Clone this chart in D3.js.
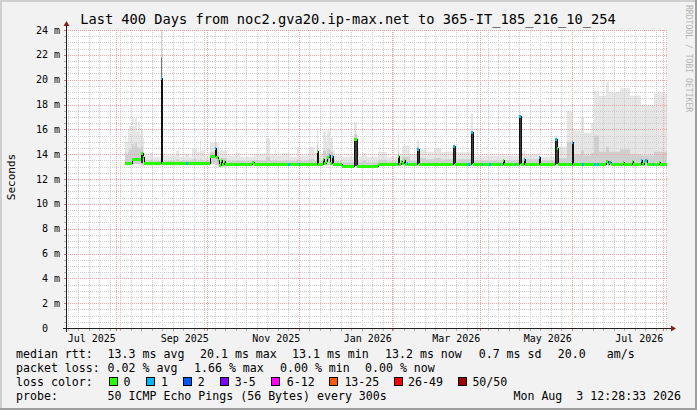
<!DOCTYPE html>
<html><head><meta charset="utf-8">
<script src="https://cdn.jsdelivr.net/npm/d3@7"></script>
<style>
html,body{margin:0;padding:0;background:#f2f2f2;}
svg{display:block;}
text{font-family:"DejaVu Sans Mono",monospace;fill:#000;white-space:pre;}
.g rect,.crisp{shape-rendering:crispEdges;}
</style></head><body>
<svg id="chart" width="697" height="410"></svg>
<script>
// ---------------- data ----------------
const titleText = "Last 400 Days from noc2.gva20.ip-max.net to 365-IT_185_216_10_254";
const yAxisTitle = "Seconds";
const watermark = "RRDTOOL / TOBI OETIKER";
const endTimeStr = "2026-08-03T12:28:33Z";
const yTickValues = [0,2,4,6,8,10,12,14,16,18,20,22,24];
const yTickUnit = "m";
const majorGridDates = ["2025-08-01","2025-10-01","2025-12-01","2026-02-01","2026-04-01","2026-06-01","2026-08-01"];
const xLabelDates = ["2025-07-16","2025-09-16","2025-11-16","2026-01-16","2026-03-16","2026-05-16","2026-07-16"];
const xLabelTexts = ["Jul 2025","Sep 2025","Nov 2025","Jan 2026","Mar 2026","May 2026","Jul 2026"];

// median rtt (ms), each value holds from its date until the next entry
const medianSteps = [
 ["2025-08-07",13.3],["2025-08-12",13.65],["2025-08-16",13.6],["2025-08-18",14.1],["2025-08-19",13.8],
 ["2025-08-20",13.25],["2025-08-31",20.1],["2025-09-01",13.25],
 ["2025-10-03",13.85],["2025-10-06",14.5],["2025-10-07",13.8],["2025-10-08",13.5],["2025-10-09",13.1],
 ["2025-10-10",13.55],["2025-10-11",13.2],["2025-10-12",13.45],["2025-10-13",13.22],
 ["2025-10-31",13.4],["2025-11-01",13.2],
 ["2025-12-13",14.25],["2025-12-14",13.2],["2025-12-17",13.65],["2025-12-18",13.25],["2025-12-19",13.45],
 ["2025-12-20",13.8],["2025-12-21",13.9],["2025-12-22",13.3],["2025-12-23",13.85],["2025-12-24",13.2],
 ["2025-12-30",13.06],["2026-01-07",15.25],["2026-01-09",13.06],["2026-01-23",13.2],
 ["2026-02-05",13.83],["2026-02-06",13.2],["2026-02-07",13.45],["2026-02-08",13.25],["2026-02-09",13.5],
 ["2026-02-10",13.2],["2026-02-11",13.3],["2026-02-12",13.2],["2026-02-18",14.4],["2026-02-19",13.2],
 ["2026-03-14",14.65],["2026-03-15",13.2],["2026-03-26",15.75],["2026-03-27",13.2],
 ["2026-04-16",13.5],["2026-04-17",13.2],["2026-04-27",17.1],["2026-04-28",13.2],["2026-04-30",13.6],
 ["2026-05-01",13.2],["2026-05-10",13.78],["2026-05-11",13.2],["2026-05-21",15.2],["2026-05-22",14.5],
 ["2026-05-23",13.2],["2026-06-01",14.95],["2026-06-02",13.2],["2026-06-24",13.45],["2026-06-25",13.2],
 ["2026-06-26",13.4],["2026-06-27",13.2],["2026-07-05",13.4],["2026-07-06",13.2],["2026-07-11",13.45],
 ["2026-07-12",13.2],["2026-07-17",13.5],["2026-07-18",13.2],["2026-07-19",13.45],["2026-07-20",13.55],
 ["2026-07-21",13.2],["2026-07-29",13.4],["2026-07-30",13.2]
];
// days with packet loss, [date, loss bucket index]
const lossDays = [
 ["2025-08-31",1],["2025-09-17",1],["2025-10-06",1],["2025-11-24",1],["2025-12-01",1],["2025-12-21",1],
 ["2025-12-23",1],["2026-02-11",1],["2026-02-18",1],["2026-03-14",1],["2026-03-24",1],["2026-03-26",1],
 ["2026-04-02",1],["2026-04-07",1],["2026-04-14",1],["2026-04-24",1],["2026-04-27",1],["2026-04-30",1],
 ["2026-05-10",1],["2026-05-21",1],["2026-06-01",1],["2026-06-08",1],["2026-06-16",1],["2026-06-18",1],
 ["2026-06-26",1],["2026-07-17",1],["2026-07-20",1],["2026-07-25",1]
];
// smoke: [date, low ms, dense-upper ms, top ms], holds until the next entry
const smokeSteps = [
 ["2025-08-07",13.1,14.2,15.5],["2025-08-08",13.1,14.0,15.0],["2025-08-09",13.1,14.2,16.0],
 ["2025-08-10",13.1,14.4,16.3],["2025-08-11",13.1,14.3,15.6],["2025-08-12",13.2,14.8,16.9],
 ["2025-08-13",13.2,14.6,16.2],["2025-08-14",13.2,14.9,16.9],["2025-08-15",13.2,14.6,15.8],
 ["2025-08-16",13.2,14.5,16.6],["2025-08-17",13.2,14.4,15.6],["2025-08-18",13.1,14.6,16.0],
 ["2025-08-19",13.1,14.2,15.3],["2025-08-20",13.1,13.5,13.9],["2025-08-24",13.1,13.55,14.1],
 ["2025-08-26",13.1,13.45,13.8],["2025-08-31",13.2,24.5,26.0],["2025-09-01",13.1,13.45,13.9],
 ["2025-09-10",13.1,13.6,14.3],["2025-09-12",13.1,13.45,13.8],["2025-09-16",13.1,13.5,14.0],
 ["2025-09-19",13.1,13.45,13.8],["2025-09-21",13.1,13.6,14.5],["2025-09-24",13.1,13.5,14.2],
 ["2025-09-26",13.1,13.7,15.1],["2025-09-27",13.1,13.5,14.3],["2025-09-29",13.1,13.45,13.8],
 ["2025-10-03",13.2,14.2,14.9],["2025-10-06",13.3,14.9,15.3],["2025-10-07",13.1,14.2,14.9],
 ["2025-10-09",13.0,13.7,14.3],["2025-10-14",13.1,13.45,13.9],["2025-10-20",13.1,13.5,14.1],
 ["2025-10-23",13.1,13.45,13.8],["2025-11-01",13.1,13.5,14.0],["2025-11-09",13.1,13.8,15.3],
 ["2025-11-12",13.1,13.5,14.0],["2025-11-15",13.1,13.6,14.4],["2025-11-16",13.1,13.45,13.9],
 ["2025-11-20",13.1,13.5,14.1],["2025-11-25",13.1,13.45,13.8],["2025-11-30",13.1,13.6,14.6],
 ["2025-12-01",13.1,13.45,13.9],["2025-12-08",13.1,13.6,14.6],["2025-12-11",13.1,13.5,14.1],
 ["2025-12-13",13.1,14.8,16.1],["2025-12-14",13.1,13.5,14.0],["2025-12-17",13.1,14.3,15.8],
 ["2025-12-19",13.1,14.0,15.0],["2025-12-20",13.1,14.4,15.9],["2025-12-22",13.1,14.2,15.3],
 ["2025-12-24",13.1,13.6,14.3],["2025-12-25",13.1,13.45,13.9],["2025-12-30",13.0,13.35,13.8],
 ["2026-01-07",13.0,15.6,16.6],["2026-01-09",13.0,13.5,14.3],["2026-01-10",13.0,13.35,13.8],
 ["2026-01-12",13.0,13.5,14.1],["2026-01-15",13.0,13.35,13.8],["2026-01-23",13.1,13.55,14.2],
 ["2026-01-29",13.1,13.4,13.8],["2026-02-05",13.1,14.3,15.6],["2026-02-06",13.1,13.5,14.0],
 ["2026-02-08",13.1,13.8,14.7],["2026-02-13",13.1,13.5,14.0],["2026-02-18",13.1,14.6,15.1],
 ["2026-02-19",13.1,13.7,14.4],["2026-02-24",13.1,13.6,14.2],["2026-03-01",13.1,13.7,14.5],
 ["2026-03-06",13.1,13.6,14.2],["2026-03-14",13.1,14.6,14.8],["2026-03-15",13.1,13.6,14.15],
 ["2026-03-26",13.1,15.8,17.3],["2026-03-27",13.1,13.5,13.9],["2026-04-16",13.1,13.6,14.1],
 ["2026-04-17",13.1,13.5,13.9],["2026-04-27",13.1,17.1,17.5],["2026-04-28",13.1,13.6,14.1],
 ["2026-04-30",13.1,13.8,14.3],["2026-05-01",13.1,13.6,14.0],["2026-05-10",13.1,13.8,14.1],
 ["2026-05-11",13.1,13.5,13.8],["2026-05-21",13.1,15.2,15.5],["2026-05-22",13.1,14.6,15.0],
 ["2026-05-23",13.1,13.7,14.6],["2026-05-29",13.1,15.0,17.5],["2026-06-02",13.1,14.0,15.9],
 ["2026-06-07",13.1,14.3,17.0],["2026-06-09",13.1,13.9,15.7],["2026-06-14",13.1,14.1,16.5],
 ["2026-06-16",13.1,15.5,19.1],["2026-06-19",13.1,14.2,18.7],["2026-06-24",13.1,14.6,19.8],
 ["2026-06-26",13.1,14.2,19.0],["2026-07-03",13.1,14.4,19.3],["2026-07-10",13.1,14.0,18.7],
 ["2026-07-17",13.1,13.9,17.9],["2026-07-26",13.1,14.2,18.9]
];
// dense smoke right above a spike's median: [date, low ms, high ms]
const denseSmoke = [["2025-08-31",13.2,21.8],["2026-06-01",13.2,15.0]];
// very dense smoke inside spike columns: [date, low ms, high ms]
const spikeCore = [
 ["2025-08-18",13.3,14.1],["2025-08-31",13.25,20.1],["2025-10-06",13.8,14.5],["2025-12-13",13.2,14.25],
 ["2026-01-07",13.06,15.25],["2026-01-08",13.06,15.25],["2026-02-05",13.2,13.83],["2026-02-18",13.2,14.4],
 ["2026-03-14",13.2,14.65],["2026-03-26",13.2,15.75],["2026-04-27",13.2,17.1],["2026-05-21",13.2,15.2],
 ["2026-05-22",13.2,14.5],["2026-06-01",13.2,14.95]
];

// legend
const rttLegendLabel = "median rtt:";
const rttLegend = ["13.3 ms avg","20.1 ms max","13.1 ms min","13.2 ms now","0.7 ms sd","20.0","am/s"];
const lossLegendLabel = "packet loss:";
const lossLegend = ["0.02 % avg","1.66 % max","0.00 % min","0.00 % now"];
const lossColorLabel = "loss color:";
const lossBuckets = ["0","1","2","3-5","6-12","13-25","26-49","50/50"];
const lossColors = ["#26ff00","#00b8ff","#0059ff","#7e00ff","#ff00ff","#ff5a00","#ff0000","#a10000"];
const probeLabel = "probe:";
const probeText = "50 ICMP Echo Pings (56 Bytes) every 300s";
const stampText = "Mon Aug  3 12:28:33 2026";

// ---------------- layout ----------------
const W = 697, H = 410;
const L = 67, R = 667, T = 30, B = 328;
const rttX = [107.6, 200, 292, 385, 478.7, 557.8, 606.7];
const lossX = [107.6, 194, 280, 365];
const boxX = [108.9, 145.8, 182.7, 219.6, 271, 329.3, 393.8, 457.8];
const boxLabelX = [123.6, 161, 197.8, 234.7, 286.7, 344.4, 408, 472.4];

const parse = d3.utcParse("%Y-%m-%d");
const endTime = new Date(endTimeStr);
const x = d3.scaleUtc().domain([d3.utcDay.offset(endTime, -400), endTime]).range([L, R]);
const y = d3.scaleLinear().domain([0, 24]).range([B, T]);
const xp = t => Math.round(x(t));          // pixel-snapped x

const svg = d3.select("#chart");
const defs = svg.append("defs");
svg.append("rect").attr("width", W).attr("height", H).attr("fill", "#f2f2f2");
// 3d shade
svg.append("rect").attr("x",0).attr("y",0).attr("width",W).attr("height",2).attr("fill","#cfcfcf");
svg.append("rect").attr("x",0).attr("y",0).attr("width",2).attr("height",H).attr("fill","#cfcfcf");
svg.append("rect").attr("x",0).attr("y",H-2).attr("width",W).attr("height",2).attr("fill","#9e9e9e");
svg.append("rect").attr("x",W-2).attr("y",0).attr("width",2).attr("height",H).attr("fill","#9e9e9e");

// canvas
svg.append("rect").attr("x", L).attr("y", T).attr("width", R - L).attr("height", B - T).attr("fill", "#fff");
defs.append("clipPath").attr("id","clip")
  .append("rect").attr("x", L).attr("y", T).attr("width", R - L).attr("height", B - T);

// dotted-line patterns (1 px on, 1 px off)
const minorCol = "#cdcdcd", majorCol = "#f2a4a4";
function dotPattern(id, w, h, col) {
  const p = defs.append("pattern").attr("id", id).attr("patternUnits", "userSpaceOnUse")
    .attr("x", 0).attr("y", 0).attr("width", w).attr("height", h);
  p.append("rect").attr("x", 0).attr("y", 0).attr("width", 1).attr("height", 1).attr("fill", col);
}
dotPattern("dvMin", 1, 2, minorCol);
dotPattern("dhMin", 2, 1, minorCol);
dotPattern("dvMaj", 1, 2, majorCol);
dotPattern("dhMaj", 2, 1, majorCol);

// build daily series
const medDates = medianSteps.map(d => parse(d[0]));
const smkDates = smokeSteps.map(d => parse(d[0]));
const lossMap = new Map(lossDays.map(d => [+parse(d[0]), d[1]]));
function lookup(dates, arr, t) { const i = d3.bisectRight(dates, t) - 1; return arr[Math.max(0, i)]; }
const days = d3.utcDay.range(medDates[0], endTime);
const series = days.map(t => {
  const m = lookup(medDates, medianSteps, t);
  const s = lookup(smkDates, smokeSteps, t);
  return { t, t1: d3.min([d3.utcDay.offset(t, 1), endTime]), med: m[1], loss: lossMap.get(+t) || 0, low: s[1], mid: s[2], top: s[3] };
});
const pts = series.concat([Object.assign({}, series[series.length - 1], { t: endTime })]);

const plot = svg.append("g").attr("clip-path", "url(#clip)");
const areaTop = d3.area().x(d => xp(d.t)).y0(d => y(d.low)).y1(d => y(d.top)).curve(d3.curveStepAfter);
const areaMid = d3.area().x(d => xp(d.t)).y0(d => y(d.low)).y1(d => y(d.mid)).curve(d3.curveStepAfter);
plot.append("path").attr("d", areaTop(pts)).attr("fill", "#e6e6e6");
plot.append("path").attr("d", areaMid(pts)).attr("fill", "#cfcfcf");
const dayX = d => xp(parse(d[0]));
const dayW = d => Math.max(1, xp(d3.utcDay.offset(parse(d[0]), 1)) - xp(parse(d[0])));
plot.selectAll(".dense").data(denseSmoke).join("rect").attr("class", "crisp")
  .attr("x", dayX).attr("width", dayW)
  .attr("y", d => y(d[2])).attr("height", d => y(d[1]) - y(d[2])).attr("fill", "#7a7a7a");

// grid
const grid = svg.append("g").attr("class", "g");
const py = v => Math.round(y(v));
const minorY = d3.range(1, 49).map(i => i * 0.5).filter(v => v % 2 !== 0);
const mondays = d3.utcMonday.range(x.domain()[0], endTime);
const majors = majorGridDates.map(parse);
minorY.forEach(v => grid.append("rect").attr("x", L).attr("width", R - L).attr("y", py(v)).attr("height", 1).attr("fill", "url(#dhMin)"));
mondays.forEach(d => grid.append("rect").attr("y", T).attr("height", B - T).attr("x", xp(d)).attr("width", 1).attr("fill", "url(#dvMin)"));
yTickValues.filter(v => v > 0).forEach(v => grid.append("rect").attr("x", L).attr("width", R - L).attr("y", py(v)).attr("height", 1).attr("fill", "url(#dhMaj)"));
majors.forEach(d => grid.append("rect").attr("y", T).attr("height", B - T).attr("x", xp(d)).attr("width", 1).attr("fill", "url(#dvMaj)"));
// ticks
minorY.forEach(v => grid.append("rect").attr("x", L - 3).attr("width", 3).attr("y", py(v)).attr("height", 1).attr("fill", "#b0b0b0"));
yTickValues.forEach(v => grid.append("rect").attr("x", L - 3).attr("width", 3).attr("y", py(v)).attr("height", 1).attr("fill", "#e07070"));
mondays.forEach(d => grid.append("rect").attr("y", B).attr("height", 3).attr("x", xp(d)).attr("width", 1).attr("fill", "#b0b0b0"));
majors.forEach(d => grid.append("rect").attr("y", B).attr("height", 3).attr("x", xp(d)).attr("width", 1).attr("fill", "#e07070"));

// spike cores above the grid
const plot2 = svg.append("g").attr("clip-path", "url(#clip)");
plot2.selectAll(".core").data(spikeCore).join("rect").attr("class", "crisp")
  .attr("x", dayX).attr("width", dayW)
  .attr("y", d => y(d[2])).attr("height", d => y(d[1]) - y(d[2])).attr("fill", "#3a3a3a");

// median line (thin dark, crisp) and loss-coloured band
const medLine = d3.line().x(d => xp(d.t) + 0.5).y(d => Math.round(y(d.med)) + 0.5).curve(d3.curveStepAfter);
plot2.append("path").attr("d", medLine(pts)).attr("class", "crisp").attr("fill", "none").attr("stroke", "#111").attr("stroke-width", 1);
const runs = [];
series.forEach(d => {
  const last = runs[runs.length - 1];
  if (last && last.med === d.med && last.loss === d.loss) last.t1 = d.t1;
  else runs.push({ t0: d.t, t1: d.t1, med: d.med, loss: d.loss });
});
plot2.selectAll(".band").data(runs).join("rect").attr("class", "crisp")
  .attr("x", d => xp(d.t0)).attr("width", d => Math.max(1, xp(d.t1) - xp(d.t0)))
  .attr("y", d => Math.round(y(d.med)) - 1).attr("height", 3)
  .attr("fill", d => lossColors[d.loss]);

// axes
const ax = svg.append("g").attr("class", "g");
ax.append("rect").attr("x", L - 4).attr("width", R - L + 9).attr("y", B).attr("height", 1).attr("fill", "#1f1f1f");
ax.append("rect").attr("x", L - 1).attr("width", 1).attr("y", T - 4).attr("height", B - T + 8).attr("fill", "#1f1f1f");
ax.append("path").attr("d", `M${R + 4},${B - 2.5}L${R + 9},${B + 0.5}L${R + 4},${B + 3.5}Z`).attr("fill", "#801f1f");
ax.append("path").attr("d", `M${L - 3.5},${T - 4}L${L - 0.5},${T - 9}L${L + 2.5},${T - 4}Z`).attr("fill", "#801f1f");

// axis labels
svg.selectAll(".ylab").data(yTickValues).join("text")
  .attr("x", 60).attr("y", d => y(d) + 3.6).attr("text-anchor", "end")
  .style("font-size", "10px")
  .text(d => d === 0 ? "0  " : `${d} ${yTickUnit}`);
svg.selectAll(".xlab").data(xLabelDates).join("text")
  .attr("x", d => x(parse(d))).attr("y", 342).attr("text-anchor", "middle")
  .style("font-size", "10px")
  .text((d, i) => xLabelTexts[i]);

// title etc.
svg.append("text").attr("x", 348).attr("y", 24).attr("text-anchor", "middle").style("font-size", "13.7px").text(titleText);
svg.append("text").attr("transform", "translate(14.5,177) rotate(-90)").attr("text-anchor", "middle").style("font-size", "11px").text(yAxisTitle);
svg.append("text").attr("transform", "translate(685.5,5) rotate(90)").attr("text-anchor", "start")
  .style("font-size", "8.1px").style("fill", "#b4b4b4").text(watermark);

// legend
const lg = svg.append("g").style("font-size", "11.6px");
const rowY = [358, 372, 386, 400];
lg.append("text").attr("x", 16).attr("y", rowY[0]).text(rttLegendLabel);
lg.selectAll(".rtt").data(rttLegend).join("text").attr("x", (d, i) => rttX[i]).attr("y", rowY[0]).text(d => d);
lg.append("text").attr("x", 16).attr("y", rowY[1]).text(lossLegendLabel);
lg.selectAll(".pl").data(lossLegend).join("text").attr("x", (d, i) => lossX[i]).attr("y", rowY[1]).text(d => d);
lg.append("text").attr("x", 16).attr("y", rowY[2]).text(lossColorLabel);
lg.selectAll(".box").data(lossBuckets).join("rect")
  .attr("x", (d, i) => Math.round(boxX[i]) + 0.5).attr("y", rowY[2] - 8.5).attr("width", 8).attr("height", 8)
  .attr("fill", (d, i) => lossColors[i]).attr("stroke", "#000");
lg.selectAll(".bl").data(lossBuckets).join("text").attr("x", (d, i) => boxLabelX[i]).attr("y", rowY[2]).text(d => d);
lg.append("text").attr("x", 16).attr("y", rowY[3]).text(probeLabel);
lg.append("text").attr("x", 107.6).attr("y", rowY[3]).text(probeText);
lg.append("text").attr("x", 681).attr("y", rowY[3]).attr("text-anchor", "end").text(stampText);
</script>
</body></html>
